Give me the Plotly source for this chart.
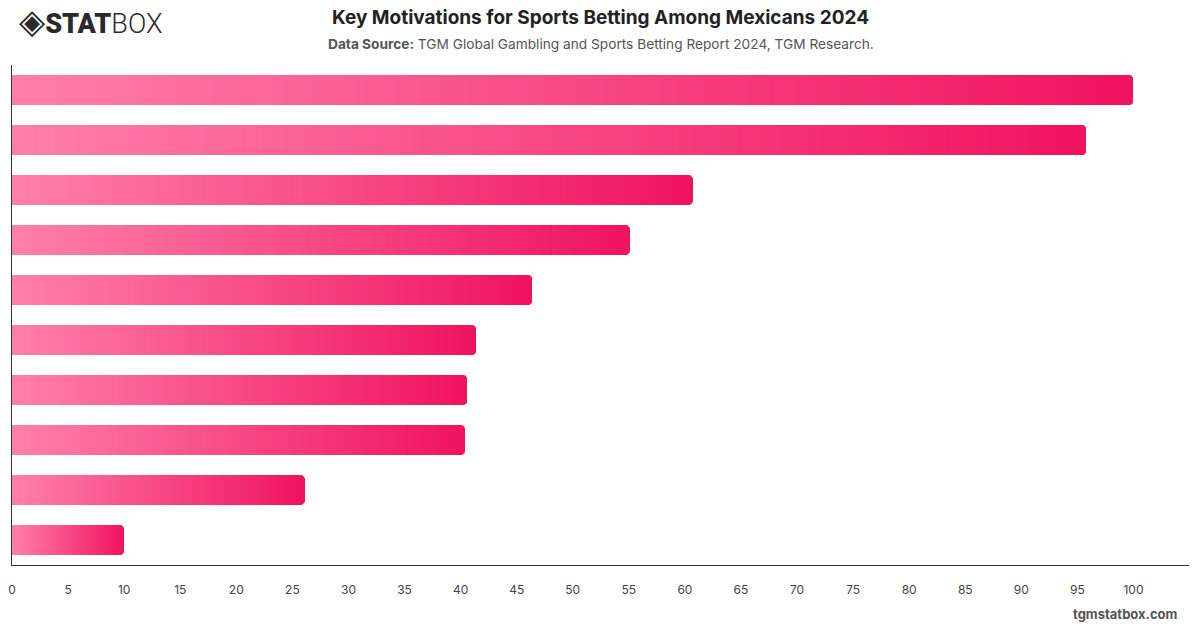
import numpy as np
import plotly.graph_objects as go

# ---- data ----
categories = [
    "Motivation 1", "Motivation 2", "Motivation 3", "Motivation 4", "Motivation 5",
    "Motivation 6", "Motivation 7", "Motivation 8", "Motivation 9", "Motivation 10",
]
values = [100, 95.8, 60.7, 55.1, 46.4, 41.4, 40.6, 40.4, 26.1, 10.0]
x_ticks = list(range(0, 101, 5))

TITLE = "Key Motivations for Sports Betting Among Mexicans 2024"
SUBTITLE = "<b>Data Source:</b> TGM Global Gambling and Sports Betting Report 2024, TGM Research."

# ---- layout geometry ----
W, H = 1200, 628
ML, MR, MT, MB = 8, 11, 65, 63
X_MAX = 104.95
plot_w = 1178
plot_h = H - MT - MB
px_per_x = plot_w / X_MAX
px_per_y = plot_h / len(categories)
BAR_HALF = 0.3
R_PX = 4.0
N_STEPS = 80
COLORSCALE = [[0, "#ff7eaa"], [1, "#f0135f"]]

fig = go.Figure()

for i, (cat, v) in enumerate(zip(categories, values)):
    edges = np.linspace(0, v, N_STEPS + 1)
    fig.add_trace(go.Heatmap(
        x=edges, y=[i - BAR_HALF, i + BAR_HALF],
        z=[np.linspace(0, 1, N_STEPS)],
        zmin=0, zmax=1, zsmooth="best", colorscale=COLORSCALE,
        showscale=False, name=cat, hovertemplate=f"{cat}: {v}<extra></extra>",
    ))

# rounded right corners: mask the corner outside the arc with background colour
for i, v in enumerate(values):
    rx = R_PX / px_per_x
    ry = R_PX / px_per_y
    top, bot = i - BAR_HALF, i + BAR_HALF
    a1 = np.linspace(-np.pi / 2, 0, 10)
    xs = [v + 0.05] + list(v - rx + rx * np.cos(a1)) + [v + 0.05]
    ys = [top - 0.01] + list(top + ry + ry * np.sin(a1)) + [top - 0.01]
    fig.add_trace(go.Scatter(x=xs, y=ys, mode="lines", fill="toself",
                             fillcolor="white", line=dict(width=0),
                             hoverinfo="skip", showlegend=False))
    a2 = np.linspace(0, np.pi / 2, 10)
    xs = [v + 0.05] + list(v - rx + rx * np.cos(a2)) + [v + 0.05]
    ys = [bot + 0.01] + list(bot - ry + ry * np.sin(a2)) + [bot + 0.01]
    fig.add_trace(go.Scatter(x=xs, y=ys, mode="lines", fill="toself",
                             fillcolor="white", line=dict(width=0),
                             hoverinfo="skip", showlegend=False))

fig.update_layout(
    width=W, height=H,
    margin=dict(l=ML, r=MR, t=MT, b=MB),
    paper_bgcolor="white", plot_bgcolor="white",
    font=dict(family="Inter, Roboto, sans-serif", color="#444"),
    showlegend=False,
    xaxis=dict(range=[0, X_MAX], tickvals=x_ticks, ticktext=[str(t) for t in x_ticks],
               showgrid=False, zeroline=False, showline=True, linecolor="#333",
               linewidth=1, ticks="", ticklabelstandoff=14,
               tickfont=dict(size=12, color="#444")),
    yaxis=dict(range=[len(categories) - 0.5, -0.5], showticklabels=False,
               showgrid=False, zeroline=False, showline=True, linecolor="#333",
               linewidth=1, ticks=""),
)

fig.add_annotation(text=f"<b>{TITLE}</b>", x=0.5, y=1, xref="paper", yref="paper",
                   xanchor="center", yanchor="middle", yshift=MT - 17, showarrow=False,
                   font=dict(size=19, color="#222"))
fig.add_annotation(text=SUBTITLE, x=0.5, xref="paper", y=1, yref="paper",
                   xanchor="center", yanchor="middle", yshift=MT - 44, showarrow=False,
                   font=dict(size=13.7, color="#555"))
# logo
fig.add_annotation(
    text="<span style='font-family:DejaVu Sans;font-size:34px'>◈</span>"
         "<span style='font-weight:900'>STAT</span>"
         "<span style='font-weight:300'>BOX</span>",
    x=0, xref="paper", xshift=5, y=1, yref="paper", yshift=MT - 21,
    xanchor="left", yanchor="middle", showarrow=False,
    font=dict(size=27, color="#2a2a2a", family="Roboto, sans-serif"))
# watermark
fig.add_annotation(text="<b>tgmstatbox.com</b>", x=1, xref="paper", xshift=-9,
                   y=0, yref="paper", yshift=-(614 - (H - MB)),
                   xanchor="right", yanchor="middle", showarrow=False,
                   font=dict(size=13, color="#555"))

fig.write_html("out.html")
